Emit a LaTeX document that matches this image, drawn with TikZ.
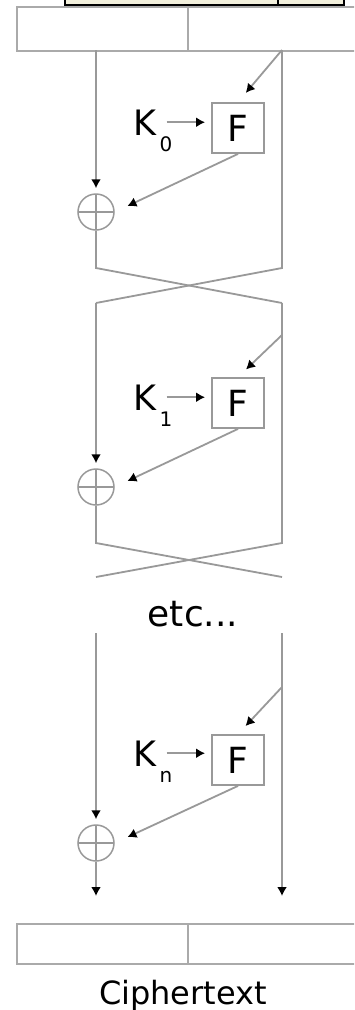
\documentclass[tikz,border=0pt]{standalone}
\usepackage{fontspec}
\setmainfont{DejaVu Sans}
\usetikzlibrary{arrows.meta}
\definecolor{ln}{HTML}{999999}
\definecolor{bx}{HTML}{AAAAAA}
\definecolor{beige}{HTML}{F2F0DC}
\begin{document}
\begin{tikzpicture}[x=1pt,y=-1pt,
  wire/.style={draw=ln,line width=1.8pt},
  conn/.style={wire,-{Latex[length=9pt,width=10pt,color=black]}},
  fbox/.style={draw=ln,line width=1.8pt,minimum width=52pt,minimum height=50pt,inner sep=0pt,font=\fontsize{36}{36}\selectfont},
  xorop/.style={circle,draw=ln,line width=1.5pt,minimum size=36pt,inner sep=0pt,
    path picture={\draw[ln,line width=1.5pt] (path picture bounding box.north) -- (path picture bounding box.south) (path picture bounding box.west) -- (path picture bounding box.east);}},
  half/.style={draw=bx,line width=1.8pt,inner sep=0pt,anchor=north west},
  ktext/.style={inner sep=0pt,anchor=base,font=\fontsize{35}{35}\selectfont},
  ksub/.style={inner sep=0pt,anchor=base,font=\fontsize{20}{20}\selectfont},
  lbl/.style={inner sep=0pt,anchor=base}
]
\useasboundingbox (0,0) rectangle (354,1010);
\clip (0,0) rectangle (354,1010);
\fill[white] (0,0) rectangle (354,1010);

% top cut-off box
\node[draw=black,fill=beige,line width=1.8pt,minimum width=279pt,minimum height=20pt,anchor=south west,inner sep=0pt] (top) at (64,6) {};
\coordinate (td1) at (278,-6);
\coordinate (td2) at (278,6);
\draw[black,line width=1.8pt] (td1) -- (td2);

% plaintext halves
\node[half,minimum width=171pt,minimum height=44pt] (pl) at (16,6) {};
\node[half,minimum width=180pt,minimum height=44pt] (pr) at (187,6) {};

% ---------- round 0 ----------
\coordinate (l0) at (96,50);
\coordinate (r0) at (282,50);
\coordinate (l0b) at (96,268);
\coordinate (r0b) at (282,268);
\coordinate (l1) at (96,303);
\coordinate (r1) at (282,303);
\node[xorop] (x0) at (96,212) {};
\node[fbox] (F0) at (238,128) {F};
\node[ktext] (K0) at (145,135) {K};
\node[ksub] (s0) at (166,151) {0};
\draw[conn,shorten >=5pt] (l0) -- (x0.north);
\draw[wire] (r0) -- (r0b) -- (l1);
\draw[wire] (x0.south) -- (l0b) -- (r1);
\draw[conn,shorten >=12pt] (r0) -- (F0.north);
\draw[conn,shorten <=10pt,shorten >=6pt] (K0.east) -- (K0.east -| F0.west);
\draw[conn,shorten >=14pt] (F0.south) -- (x0.east);

% ---------- round 1 ----------
\coordinate (d1) at (282,335);
\coordinate (l1b) at (96,543);
\coordinate (r1b) at (282,543);
\coordinate (l1c) at (96,577);
\coordinate (r1c) at (282,577);
\node[xorop] (x1) at (96,487) {};
\node[fbox] (F1) at (238,403) {F};
\node[ktext] (K1) at (145,410) {K};
\node[ksub] (s1) at (166,426) {1};
\draw[conn,shorten >=5pt] (l1) -- (x1.north);
\draw[wire] (r1) -- (r1b) -- (l1c);
\draw[wire] (x1.south) -- (l1b) -- (r1c);
\draw[conn,shorten >=11pt] (d1) -- (F1.north);
\draw[conn,shorten <=10pt,shorten >=6pt] (K1.east) -- (K1.east -| F1.west);
\draw[conn,shorten >=14pt] (F1.south) -- (x1.east);

\node[lbl,font=\fontsize{36}{36}\selectfont] (etc) at (193,626) {etc...};

% ---------- round n ----------
\coordinate (l2) at (96,633);
\coordinate (r2) at (282,633);
\coordinate (dn) at (282,687);
\node[xorop] (xn) at (96,843) {};
\node[fbox] (Fn) at (238,760) {F};
\node[ktext] (Kn) at (145,766) {K};
\node[ksub] (sn) at (166,782) {n};
\draw[conn,shorten >=5pt] (l2) -- (xn.north);
\draw[conn,shorten >=11pt] (dn) -- (Fn.north);
\draw[conn,shorten <=10pt,shorten >=6pt] (Kn.east) -- (Kn.east -| Fn.west);
\draw[conn,shorten >=14pt] (Fn.south) -- (xn.east);

% ciphertext halves
\node[half,minimum width=171pt,minimum height=40pt] (cl) at (16,923) {};
\node[half,minimum width=180pt,minimum height=40pt] (cr) at (187,923) {};
\draw[conn,shorten >=27pt] (xn.south) -- (xn.south |- cl.north);
\draw[conn,shorten >=27pt] (r2) -- (r2 |- cr.north);

\node[lbl,font=\fontsize{32}{32}\selectfont] (ct) at (183,1004) {Ciphertext};
\end{tikzpicture}
\end{document}
